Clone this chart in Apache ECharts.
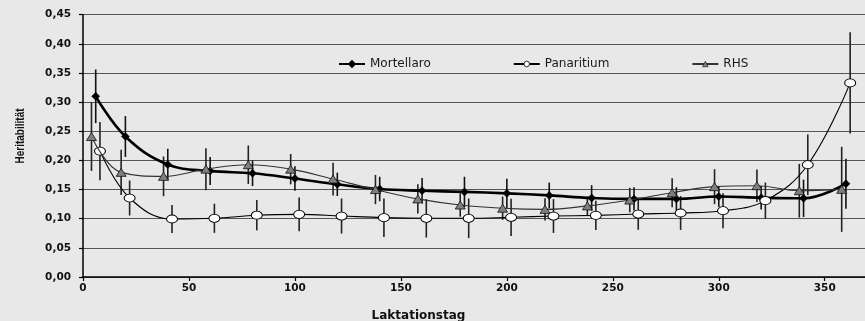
<!DOCTYPE html>
<html>
<head>
<meta charset="utf-8">
<script src="https://cdn.jsdelivr.net/npm/echarts@6/dist/echarts.min.js"></script>
<style>
html,body{margin:0;padding:0;background:#e8e8e8;}
#c{width:865px;height:321px;}
</style>
</head>
<body>
<div id="c"></div>
<script>
// ---- data ----
const seriesNames = ['Mortellaro', 'Panaritium', 'RHS'];
const xTitle = 'Laktationstag';
const yTitle = 'Heritabilität';

const mortDays = [6, 20, 40, 60, 80, 100, 120, 140, 160, 180, 200, 220, 240, 260, 280, 300, 320, 340, 360];
const mortVals = [0.310, 0.241, 0.193, 0.182, 0.178, 0.169, 0.159, 0.151, 0.148, 0.146, 0.1435, 0.140, 0.1355, 0.134, 0.134, 0.138, 0.136, 0.135, 0.160];
const mortErr  = [0.046, 0.035, 0.027, 0.024, 0.022, 0.021, 0.020, 0.021, 0.022, 0.026, 0.025, 0.022, 0.022, 0.020, 0.020, 0.018, 0.020, 0.032, 0.043];

const panDays = [8, 22, 42, 62, 82, 102, 122, 142, 162, 182, 202, 222, 242, 262, 282, 302, 322, 342, 362];
const panVals = [0.216, 0.1355, 0.0995, 0.1007, 0.106, 0.1075, 0.1046, 0.1018, 0.1007, 0.1007, 0.1024, 0.1046, 0.1058, 0.108, 0.1098, 0.1137, 0.131, 0.1926, 0.333];
const panErr  = [0.050, 0.030, 0.024, 0.025, 0.026, 0.029, 0.030, 0.033, 0.033, 0.034, 0.032, 0.029, 0.025, 0.027, 0.029, 0.030, 0.031, 0.052, 0.087];

const rhsDays = [4, 18, 38, 58, 78, 98, 118, 138, 158, 178, 198, 218, 238, 258, 278, 298, 318, 338, 358];
const rhsVals = [0.241, 0.1795, 0.1727, 0.185, 0.1926, 0.185, 0.168, 0.150, 0.134, 0.1235, 0.118, 0.116, 0.122, 0.132, 0.1446, 0.155, 0.1566, 0.148, 0.1504];
const rhsErr  = [0.059, 0.039, 0.034, 0.036, 0.033, 0.026, 0.028, 0.025, 0.025, 0.020, 0.020, 0.019, 0.016, 0.021, 0.025, 0.030, 0.028, 0.046, 0.073];

// ---- build ----
const pair = (d, v) => d.map((x, i) => [x, v[i]]);
const triple = (d, v, e) => d.map((x, i) => [x, v[i], e[i]]);

function errSeries(data, color) {
  return {
    type: 'custom',
    data: data,
    z: 1,
    silent: true,
    encode: { x: 0, y: 1 },
    renderItem: function (params, api) {
      const x = api.value(0), y = api.value(1), e = api.value(2);
      const top = api.coord([x, y + e]);
      const bot = api.coord([x, y - e]);
      return {
        type: 'line',
        shape: { x1: top[0], y1: top[1], x2: bot[0], y2: bot[1] },
        style: { stroke: color, lineWidth: 1.6 }
      };
    }
  };
}

const ellipse = 'path://M0,4 A5,4 0 1 1 10,4 A5,4 0 1 1 0,4 Z';

const chart = echarts.init(document.getElementById('c'), null, { renderer: 'canvas' });
chart.setOption({
  backgroundColor: '#e8e8e8',
  animation: false,
  grid: { left: 83, right: 0, top: 14.7, bottom: 44, containLabel: false },
  legend: {
    data: [
      { name: seriesNames[0] },
      { name: seriesNames[1], itemStyle: { borderWidth: 0.8 } },
      { name: seriesNames[2], itemStyle: { borderWidth: 0.6 } }
    ],
    left: 333,
    top: 53,
    itemWidth: 26,
    itemHeight: 7,
    itemGap: 82,
    textStyle: { fontFamily: 'DejaVu Sans', fontSize: 12, color: '#1a1a1a' }
  },
  xAxis: {
    type: 'value',
    min: 0,
    max: 369,
    interval: 50,
    axisLine: { show: true, onZero: false, lineStyle: { color: '#000', width: 1.5 } },
    axisTick: { show: true, length: 4, lineStyle: { color: '#000', width: 1.2 } },
    axisLabel: { showMaxLabel: false, margin: 6, fontFamily: 'DejaVu Sans', fontWeight: 'bold', fontSize: 10.5, color: '#111' },
    splitLine: { show: false }
  },
  yAxis: {
    type: 'value',
    min: 0,
    max: 0.45,
    interval: 0.05,
    axisLine: { show: true, lineStyle: { color: '#000', width: 1.5 } },
    axisTick: { show: true, length: 4, lineStyle: { color: '#000', width: 1.2 } },
    axisLabel: {
      margin: 12,
      fontFamily: 'DejaVu Sans', fontWeight: 'bold', fontSize: 10.5, color: '#111',
      formatter: v => v.toFixed(2).replace('.', ',')
    },
    splitLine: { show: true, lineStyle: { color: '#555', width: 1.1 } }
  },
  graphic: [
    {
      type: 'text', x: 20, y: 136, rotation: Math.PI / 2, scaleX: 0.77, scaleY: 1,
      style: { text: yTitle, font: 'bold 13px "Liberation Sans"', fill: '#111', align: 'center', verticalAlign: 'middle' }
    },
    {
      type: 'text', x: 418.5, y: 315.5,
      style: { text: xTitle, font: 'bold 12px "DejaVu Sans"', fill: '#111', align: 'center', verticalAlign: 'middle' }
    }
  ],
  series: [
    errSeries(triple(mortDays, mortVals, mortErr), '#111'),
    errSeries(triple(panDays, panVals, panErr), '#222'),
    errSeries(triple(rhsDays, rhsVals, rhsErr), '#222'),
    {
      name: seriesNames[0], type: 'line', z: 3, smooth: 0.4,
      data: pair(mortDays, mortVals),
      symbol: 'diamond', symbolSize: [8, 8],
      lineStyle: { color: '#000', width: 2.6 },
      itemStyle: { color: '#000', borderColor: '#000', borderWidth: 0.5 }
    },
    {
      name: seriesNames[1], type: 'line', z: 4, smooth: 0.4,
      data: pair(panDays, panVals),
      symbol: ellipse, symbolSize: [11, 8],
      lineStyle: { color: '#000', width: 1.1 },
      itemStyle: { color: '#fff', borderColor: '#000', borderWidth: 0.9 }
    },
    {
      name: seriesNames[2], type: 'line', z: 5, smooth: 0.4,
      data: pair(rhsDays, rhsVals),
      symbol: 'triangle', symbolSize: [10, 8],
      lineStyle: { color: '#333', width: 1.1 },
      itemStyle: { color: '#7f7f7f', borderColor: '#111', borderWidth: 0.8 }
    }
  ]
});
</script>
</body>
</html>
